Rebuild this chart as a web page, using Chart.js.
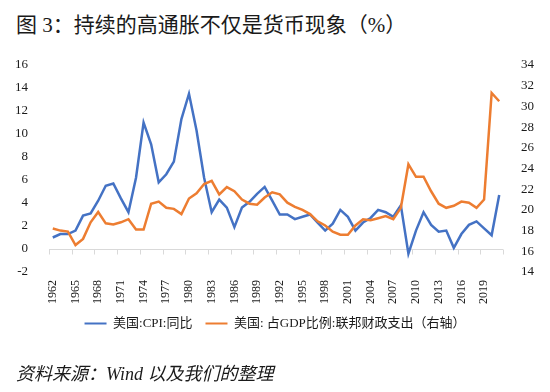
<!DOCTYPE html>
<html>
<head>
<meta charset="utf-8">
<script src="https://cdn.jsdelivr.net/npm/chart.js@4"></script>
<style>
  html, body { margin: 0; padding: 0; background: #fff; }
  #wrap { position: relative; width: 550px; height: 392px; overflow: hidden; }
  #chart { position: absolute; left: 0; top: 0; }
  .title {
    position: absolute; left: 16px; top: 8px;
    font: 21px "Liberation Serif", "Noto Sans CJK SC", serif;
    color: #1a1a1a; white-space: nowrap;
  }
  .source {
    position: absolute; left: 16px; top: 359px;
    font: italic 18px "Liberation Serif", "Noto Sans CJK SC", serif;
    color: #1a1a1a; white-space: nowrap;
  }
</style>
</head>
<body>
<div id="wrap">
  <div class="title">图 3：持续的高通胀不仅是货币现象（%）</div>
  <canvas id="chart" width="550" height="392"></canvas>
  <div class="source">资料来源：Wind 以及我们的整理</div>
</div>
<script>
// 年份（X轴类别）
const years = [
  '1962', '1963', '1964', '1965', '1966', '1967', '1968', '1969', '1970', '1971',
  '1972', '1973', '1974', '1975', '1976', '1977', '1978', '1979', '1980', '1981',
  '1982', '1983', '1984', '1985', '1986', '1987', '1988', '1989', '1990', '1991',
  '1992', '1993', '1994', '1995', '1996', '1997', '1998', '1999', '2000', '2001',
  '2002', '2003', '2004', '2005', '2006', '2007', '2008', '2009', '2010', '2011',
  '2012', '2013', '2014', '2015', '2016', '2017', '2018', '2019', '2020', '2021'
];

// 美国:CPI:同比（左轴）
const cpiYoY = [
  1.0, 1.3, 1.3, 1.6, 2.9, 3.1, 4.2, 5.5, 5.7, 4.4,
  3.2, 6.2, 11.0, 9.1, 5.8, 6.5, 7.6, 11.3, 13.5, 10.3,
  6.2, 3.2, 4.3, 3.6, 1.9, 3.6, 4.1, 4.8, 5.4, 4.2,
  3.0, 3.0, 2.6, 2.8, 3.0, 2.3, 1.6, 2.2, 3.4, 2.8,
  1.6, 2.3, 2.7, 3.4, 3.2, 2.8, 3.8, -0.4, 1.6, 3.2,
  2.1, 1.5, 1.6, 0.1, 1.3, 2.1, 2.4, 1.8, 1.2, 4.7
];

// 美国:占GDP比例:联邦财政支出（右轴）
const outlaysGdp = [
  18.2, 18.0, 17.9, 16.6, 17.2, 18.8, 19.8, 18.7, 18.6, 18.8,
  19.1, 18.1, 18.1, 20.6, 20.8, 20.2, 20.1, 19.6, 21.1, 21.6,
  22.5, 22.8, 21.5, 22.2, 21.8, 21.0, 20.6, 20.5, 21.2, 21.7,
  21.5, 20.7, 20.3, 20.0, 19.6, 18.9, 18.5, 17.9, 17.6, 17.6,
  18.5, 19.1, 19.0, 19.2, 19.4, 19.1, 20.2, 24.4, 23.2, 23.2,
  21.8, 20.6, 20.2, 20.4, 20.8, 20.7, 20.2, 21.0, 31.3, 30.5
];

// 坐标轴刻度
const leftTicks = [-2, 0, 2, 4, 6, 8, 10, 12, 14, 16];
const rightTicks = [14, 16, 18, 20, 22, 24, 26, 28, 30, 32, 34];
const labelEvery = 3;

const SERIF = '"Liberation Serif", "Noto Sans CJK SC", serif';
const TEXT = '#1a1a1a';

// 在 0 值处画横轴线以及每3年一个刻度
const zeroAxisLine = {
  id: 'zeroAxisLine',
  beforeDatasetsDraw(chart) {
    const { ctx, chartArea, scales } = chart;
    const y = Math.round(scales.y.getPixelForValue(0)) + 0.5;
    const step = (chartArea.right - chartArea.left) / years.length;
    ctx.save();
    ctx.strokeStyle = '#d9d9d9';
    ctx.lineWidth = 1;
    ctx.beginPath();
    ctx.moveTo(chartArea.left, y);
    ctx.lineTo(chartArea.right, y);
    for (let i = 0; i <= years.length; i += labelEvery) {
      const x = Math.round(chartArea.left + i * step) + 0.5;
      ctx.moveTo(x, y);
      ctx.lineTo(x, y + 5);
    }
    ctx.stroke();
    ctx.restore();
  }
};

new Chart(document.getElementById('chart'), {
  type: 'line',
  data: {
    labels: years,
    datasets: [
      {
        label: '美国:CPI:同比',
        data: cpiYoY,
        yAxisID: 'y',
        borderColor: '#4472C4',
        backgroundColor: '#4472C4',
        borderWidth: 2.5,
        pointRadius: 0,
        tension: 0,
        order: 2
      },
      {
        label: '美国: 占GDP比例:联邦财政支出（右轴）',
        data: outlaysGdp,
        yAxisID: 'y1',
        borderColor: '#ED7D31',
        backgroundColor: '#ED7D31',
        borderWidth: 2.5,
        pointRadius: 0,
        tension: 0,
        order: 1
      }
    ]
  },
  options: {
    responsive: false,
    animation: false,
    layout: { padding: { top: 65, left: 0, right: 0, bottom: 52 } },
    scales: {
      x: {
        offset: true,
        grid: { display: false },
        border: { display: false },
        ticks: {
          autoSkip: false,
          minRotation: 90,
          maxRotation: 90,
          padding: 0,
          color: TEXT,
          font: { family: SERIF, size: 12 },
          callback(value, index) {
            return index % labelEvery === 0 ? years[index] : '';
          }
        }
      },
      y: {
        position: 'left',
        min: -2,
        max: 16,
        grid: { display: false },
        border: { display: false },
        afterFit(scale) { scale.width = 49; },
        afterBuildTicks(scale) { scale.ticks = leftTicks.map(v => ({ value: v })); },
        ticks: {
          padding: 13,
          color: TEXT,
          font: { family: SERIF, size: 13 }
        }
      },
      y1: {
        position: 'right',
        min: 14,
        max: 34,
        grid: { display: false },
        border: { display: false },
        afterFit(scale) { scale.width = 47; },
        afterBuildTicks(scale) { scale.ticks = rightTicks.map(v => ({ value: v })); },
        ticks: {
          padding: 10,
          color: TEXT,
          font: { family: SERIF, size: 13 }
        }
      }
    },
    plugins: {
      legend: {
        position: 'bottom',
        labels: {
          boxWidth: 22,
          boxHeight: 2,
          padding: 13,
          color: TEXT,
          font: { family: SERIF, size: 13 },
          generateLabels(chart) {
            return chart.data.datasets.map((ds, i) => ({
              text: ds.label,
              fillStyle: ds.borderColor,
              strokeStyle: ds.borderColor,
              lineWidth: 0,
              hidden: false,
              datasetIndex: i,
              fontColor: TEXT
            }));
          }
        }
      },
      tooltip: { enabled: false }
    }
  },
  plugins: [zeroAxisLine]
});
</script>
</body>
</html>
